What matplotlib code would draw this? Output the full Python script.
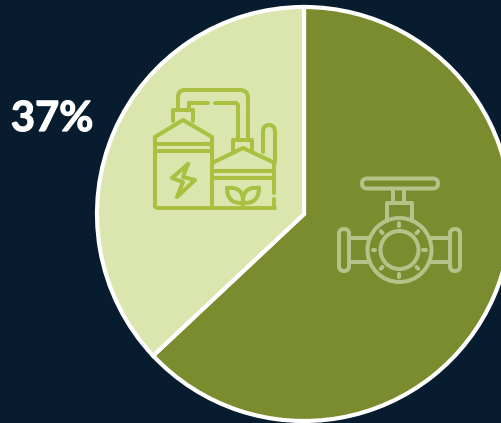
import numpy as np
import matplotlib
matplotlib.use('Agg')
import matplotlib.pyplot as plt
import matplotlib.patheffects as pe
from matplotlib.patches import Circle, FancyBboxPatch, PathPatch
from matplotlib.path import Path

W, H = 502, 423
BG = '#071c2e'
OLIVE = '#7a8c2e'
LIGHT = '#dbe5ae'
FACTORY = '#a9c040'
VALVE = '#b6c289'
LW = 2.9

shares = [63, 37]
label = '37%'

fig = plt.figure(figsize=(W / 100, H / 100), dpi=100, facecolor=BG)
ax = fig.add_axes([0, 0, 1, 1])

ax.pie(shares, colors=[OLIVE, LIGHT], startangle=90, counterclock=False,
       center=(304, H - 214), radius=207,
       wedgeprops=dict(edgecolor='white', linewidth=3.0))
ax.set_xlim(0, W)
ax.set_ylim(0, H)
ax.axis('off')


def line(pts, color, lw=LW):
    xs = [p[0] for p in pts]
    ys = [H - p[1] for p in pts]
    ax.plot(xs, ys, color=color, lw=lw, solid_capstyle='round',
            solid_joinstyle='round', zorder=5)


def curve(verts, color, lw=LW):
    # quadratic bezier chain, first vertex is the start
    v = [(x, H - y) for x, y in verts]
    codes = [Path.MOVETO] + [Path.CURVE3] * (len(v) - 1)
    ax.add_patch(PathPatch(Path(v, codes), fc='none', ec=color, lw=lw,
                           capstyle='round', zorder=5))


def rbox(x0, y0, x1, y1, r, color, lw=LW):
    ax.add_patch(FancyBboxPatch((x0 + r, H - y1 + r), x1 - x0 - 2 * r, y1 - y0 - 2 * r,
                                boxstyle=f'round,pad={r}', fc='none', ec=color,
                                lw=lw, zorder=5))


# biogas plant icon
c = FACTORY
line([(155, 207), (155, 137), (183, 120), (212, 137), (212, 208)], c)
line([(157, 208.5), (275, 208.5)], c)
line([(155, 144), (212, 144)], c)
line([(155, 151), (212, 151)], c)
line([(173, 121), (173, 110), (193, 110), (193, 121)], c)
line([(178, 110), (178, 97)], c)
curve([(178, 97), (178, 90), (185, 90)], c)
line([(185, 90), (240, 90)], c)
curve([(240, 90), (248, 90), (248, 98)], c)
line([(248, 98), (248, 139)], c)
line([(189, 110), (189, 103), (208, 103)], c)
line([(215, 103), (235, 103)], c)
curve([(235, 103), (238, 103), (238, 106)], c)
line([(238, 106), (238, 139)], c)
line([(233, 150), (233, 140), (252, 140), (252, 150)], c)
line([(212, 163), (243, 148), (275, 163)], c)
line([(212, 171), (274, 171)], c)
line([(212, 178), (274, 178)], c)
line([(274.5, 165), (274.5, 193)], c)
line([(274.5, 199), (274.5, 207)], c)
line([(263, 152), (263, 132)], c)
curve([(263, 132), (263, 125), (269, 125)], c)
curve([(269, 125), (275, 125), (275, 132)], c)
line([(275, 132), (275, 160)], c)
line([(188, 164), (172, 178), (183, 182), (177, 197), (195, 180), (183, 177), (188, 164)], c)
line([(243, 198), (243, 208)], c)
curve([(243, 203), (227, 204), (227, 188)], c)
curve([(227, 188), (244, 186), (243, 203)], c)
curve([(243, 203), (259, 204), (259, 188)], c)
curve([(259, 188), (242, 186), (243, 203)], c)

# valve icon
c = VALVE
rbox(362, 178.5, 438, 188.5, 5, c)
line([(393, 189), (393, 203)], c)
line([(404, 189), (404, 203)], c)
line([(387, 221), (387, 203), (412, 203), (412, 221)], c)
cx, cy = 399.5, 250
ax.add_patch(Circle((cx, H - cy), 32, fc='none', ec=c, lw=LW, zorder=5))
ax.add_patch(Circle((cx, H - cy), 19, fc='none', ec=c, lw=LW, zorder=5))
for a in np.deg2rad(np.arange(0, 360, 45)):
    line([(cx + 24 * np.cos(a), cy + 24 * np.sin(a)),
          (cx + 26.5 * np.cos(a), cy + 26.5 * np.sin(a))], c)
rbox(339, 229, 349, 271, 5, c)
rbox(450, 229, 460, 271, 5, c)
line([(349, 238), (369, 238)], c)
line([(349, 262), (369, 262)], c)
line([(431, 238), (450, 238)], c)
line([(431, 262), (450, 262)], c)

txt = ax.text(52, H - 119, label, color='white', fontsize=30, fontweight='bold',
              family='Lato', ha='center', va='center', zorder=6)
txt.set_path_effects([pe.withStroke(linewidth=0.9, foreground='white')])

fig.savefig('out.png', dpi=100, facecolor=BG)
